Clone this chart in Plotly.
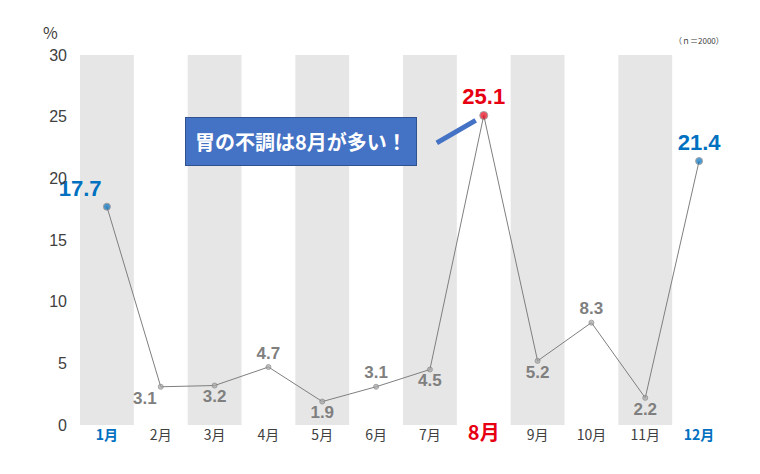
import plotly.graph_objects as go

months = ["1月","2月","3月","4月","5月","6月","7月","8月","9月","10月","11月","12月"]
values = [17.7,3.1,3.2,4.7,1.9,3.1,4.5,25.1,5.2,8.3,2.2,21.4]
label_pos = ["top left","bottom left","bottom center","top center","bottom center","top center",
             "bottom center","top center","bottom center","top center","bottom center","top center"]

GRAY="#7f7f7f"; BLUE="#0070c0"; RED="#e60012"
pt_col = [BLUE]+["#a6a6a6"]*6+[RED]+["#a6a6a6"]*3+[BLUE]
txt_col = [BLUE]+[GRAY]*6+[RED]+[GRAY]*3+[BLUE]
txt_size = [22]+[17]*6+[22]+[17]*3+[22]
mk_size = [7]+[5]*6+[8]+[5]*3+[7]
x = list(range(12))

fig = go.Figure()
for i in range(0,12,2):
    fig.add_shape(type="rect", x0=i-0.5, x1=i+0.5, y0=0, y1=30, xref="x", yref="y",
                  fillcolor="#e7e6e6", line_width=0, layer="below")
fig.add_trace(go.Scatter(x=x, y=values, mode="lines+markers+text", cliponaxis=False,
    line=dict(color="#7f7f7f", width=1),
    marker=dict(color=pt_col, size=mk_size),
    text=[f"<b>{v}</b>" for v in values], textposition=label_pos,
    textfont=dict(color=txt_col, size=txt_size, family="Arial")))

ticktext=[]
for i,m in enumerate(months):
    if i in (0,11): ticktext.append(f"<b><span style='color:{BLUE}'>{m}</span></b>")
    elif i==7: ticktext.append(f"<b><span style='color:{RED};font-size:20px'>{m}</span></b>")
    else: ticktext.append(m)

fig.update_layout(width=760, height=474, plot_bgcolor="white", paper_bgcolor="white",
    margin=dict(l=72, r=42, t=47, b=57), showlegend=False,
    font=dict(family="Noto Sans CJK JP", color="#404040"),
    xaxis=dict(range=[-0.5,11.5], tickvals=x, ticktext=ticktext, showgrid=False, automargin=False,
               zeroline=False, showline=False, tickfont=dict(size=14, color="#404040"), ticks=""),
    yaxis=dict(range=[0,30], dtick=5, showgrid=False, zeroline=False, showline=False, automargin=False,
               tickfont=dict(size=16, color="#404040", family="Arial"), ticks="", ticklabelstandoff=12))
fig.add_annotation(text="%", xref="paper", yref="paper", x=-0.06, y=1.1, showarrow=False,
                   font=dict(size=16, color="#404040"))
fig.add_annotation(text="（ｎ＝2000）", xref="paper", yref="paper", x=1.0, y=1.06, showarrow=False,
                   font=dict(size=8, color="#404040"))
fig.add_annotation(x=6.85, y=24.7, ax=6.1, ay=22.8, xref="x", yref="y", axref="x", ayref="y",
    showarrow=True, arrowhead=0, arrowwidth=5, arrowcolor="#4472c4", text="")
fig.add_annotation(text="<b>胃の不調は8月が多い！</b>", x=3.6, y=23.0, xref="x", yref="y",
    showarrow=False, bgcolor="#4472c4", bordercolor="#2f528f", borderwidth=1, borderpad=9,
    font=dict(size=20, color="white"))
fig.write_html("out.html")
